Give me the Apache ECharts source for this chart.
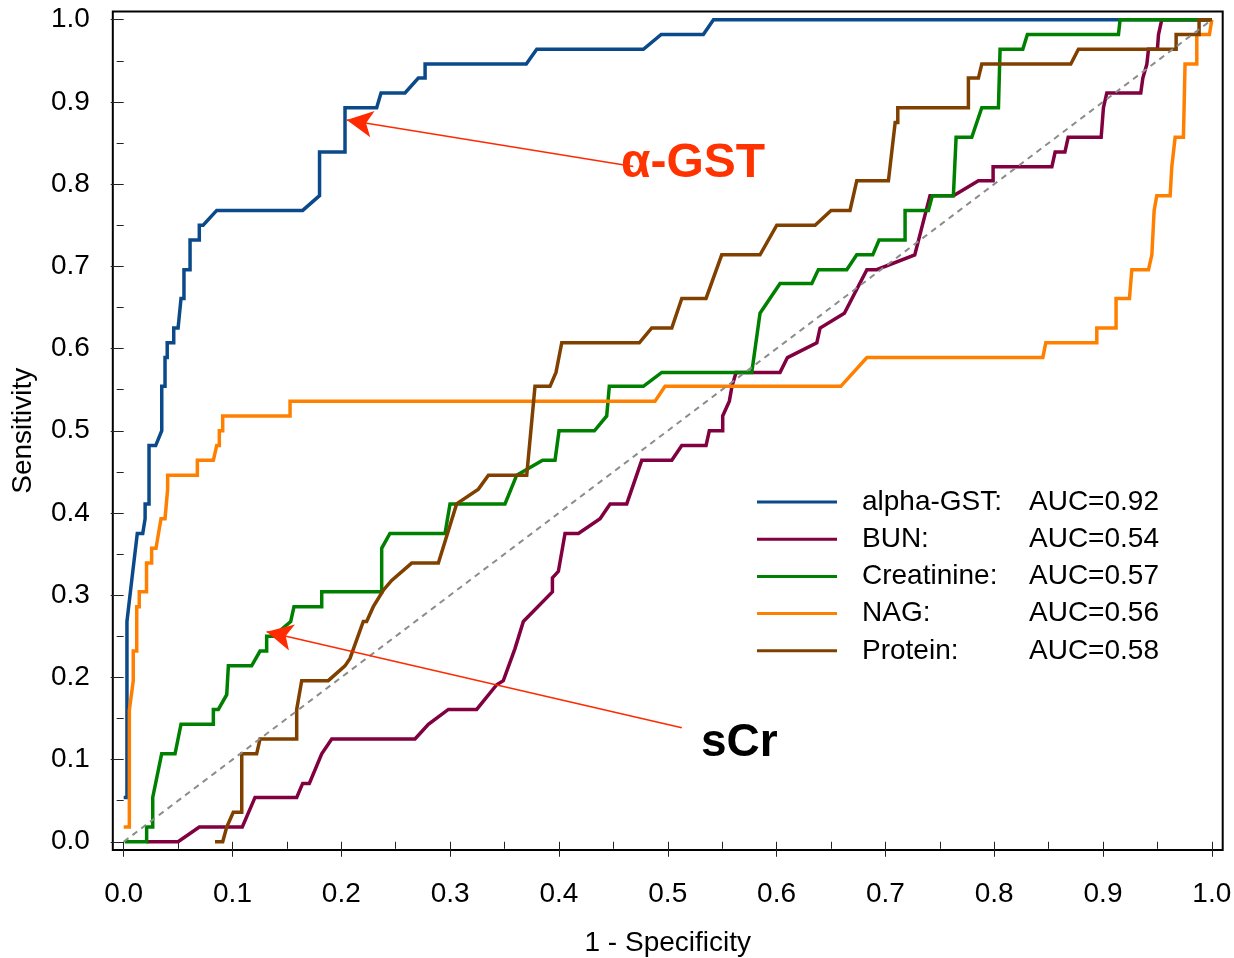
<!DOCTYPE html>
<html>
<head>
<meta charset="utf-8">
<script src="https://cdn.jsdelivr.net/npm/echarts@6/dist/echarts.min.js"></script>
<style>
html,body{margin:0;padding:0;background:#fff;}
#chart{width:1234px;height:958px;}
</style>
</head>
<body>
<div id="chart"></div>
<script>
// ---- data ----
const seriesNames = ['alpha-GST', 'BUN', 'Creatinine', 'NAG', 'Protein'];
const aucLabels = ['0.92', '0.54', '0.57', '0.56', '0.58'];
const xTickValues = [0, 0.1, 0.2, 0.3, 0.4, 0.5, 0.6, 0.7, 0.8, 0.9, 1.0];
const xMinorTickValues = [0.05, 0.15, 0.25, 0.35, 0.45, 0.55, 0.65, 0.75, 0.85, 0.95];
const yTickValues = [0, 0.1, 0.2, 0.3, 0.4, 0.5, 0.6, 0.7, 0.8, 0.9, 1.0];
const yMinorTickValues = [0.05, 0.15, 0.25, 0.35, 0.45, 0.55, 0.65, 0.75, 0.85, 0.95];

const alphaGST = [[0,0.054],[0.003,0.054],[0.003,0.268],[0.0074,0.318],[0.0125,0.375],[0.0175,0.375],[0.0197,0.393],[0.0197,0.411],[0.0233,0.411],[0.0233,0.482],[0.0294,0.482],[0.035,0.5],[0.035,0.554],[0.038,0.554],[0.038,0.589],[0.040,0.589],[0.040,0.607],[0.046,0.607],[0.046,0.625],[0.050,0.625],[0.0527,0.661],[0.0554,0.661],[0.0554,0.696],[0.061,0.696],[0.061,0.732],[0.0695,0.732],[0.0695,0.75],[0.073,0.75],[0.0855,0.768],[0.1645,0.768],[0.180,0.786],[0.180,0.839],[0.2034,0.839],[0.2034,0.893],[0.2325,0.893],[0.2365,0.911],[0.2585,0.911],[0.2708,0.929],[0.277,0.929],[0.277,0.946],[0.370,0.946],[0.3796,0.964],[0.4776,0.964],[0.494,0.982],[0.5327,0.982],[0.542,1.0],[1.0,1.0]];

const bun = [[0.021,0],[0.050,0],[0.0695,0.018],[0.109,0.018],[0.1207,0.054],[0.159,0.054],[0.1645,0.071],[0.1706,0.071],[0.182,0.107],[0.1912,0.125],[0.2677,0.125],[0.28,0.143],[0.2984,0.161],[0.3244,0.161],[0.3428,0.191],[0.3489,0.196],[0.3596,0.235],[0.3673,0.268],[0.394,0.304],[0.394,0.321],[0.3995,0.329],[0.4056,0.375],[0.4179,0.375],[0.4378,0.393],[0.447,0.411],[0.4623,0.411],[0.4761,0.464],[0.5037,0.464],[0.5129,0.482],[0.5352,0.482],[0.5382,0.5],[0.5505,0.5],[0.5505,0.518],[0.5566,0.536],[0.559,0.554],[0.5628,0.571],[0.6032,0.571],[0.61,0.589],[0.637,0.607],[0.64,0.625],[0.6623,0.643],[0.683,0.696],[0.692,0.696],[0.727,0.714],[0.741,0.786],[0.7625,0.786],[0.7855,0.804],[0.799,0.804],[0.799,0.821],[0.853,0.821],[0.856,0.839],[0.865,0.839],[0.868,0.857],[0.8983,0.857],[0.9004,0.893],[0.9035,0.911],[0.9347,0.911],[0.9366,0.929],[0.9403,0.946],[0.9418,0.964],[0.95,0.964],[0.951,0.982],[0.9525,0.982],[0.954,1.0],[1.0,1.0]];

const creatinine = [[0.001,0],[0.0211,0],[0.0211,0.018],[0.0267,0.018],[0.0267,0.054],[0.0349,0.107],[0.0472,0.107],[0.0527,0.143],[0.0824,0.143],[0.0824,0.161],[0.087,0.161],[0.0947,0.179],[0.0962,0.214],[0.1176,0.214],[0.1253,0.232],[0.1314,0.232],[0.1314,0.25],[0.1375,0.25],[0.1535,0.268],[0.1565,0.286],[0.182,0.286],[0.182,0.304],[0.2371,0.304],[0.2371,0.357],[0.2447,0.375],[0.2953,0.375],[0.2999,0.411],[0.3504,0.411],[0.3612,0.446],[0.385,0.464],[0.3964,0.464],[0.4001,0.5],[0.4326,0.5],[0.4439,0.518],[0.4463,0.554],[0.4776,0.554],[0.4945,0.571],[0.5772,0.571],[0.5848,0.643],[0.6032,0.679],[0.6324,0.679],[0.6384,0.696],[0.6645,0.696],[0.6737,0.714],[0.6884,0.714],[0.6942,0.732],[0.7181,0.732],[0.7181,0.768],[0.7395,0.768],[0.7432,0.786],[0.7625,0.786],[0.765,0.857],[0.7794,0.857],[0.7886,0.893],[0.8039,0.893],[0.8054,0.964],[0.8263,0.964],[0.8305,0.982],[0.9142,0.982],[0.9157,1.0],[1.0,1.0]];

const nag = [[0,0.018],[0.0052,0.018],[0.0052,0.160],[0.0088,0.196],[0.0088,0.232],[0.012,0.232],[0.012,0.286],[0.0143,0.286],[0.0143,0.304],[0.021,0.304],[0.021,0.339],[0.0257,0.339],[0.0257,0.357],[0.0297,0.357],[0.0343,0.393],[0.038,0.393],[0.0404,0.429],[0.0404,0.446],[0.0677,0.446],[0.0677,0.464],[0.0824,0.464],[0.0855,0.482],[0.0879,0.482],[0.0879,0.5],[0.091,0.5],[0.091,0.518],[0.1529,0.518],[0.1529,0.536],[0.4883,0.536],[0.4975,0.554],[0.659,0.554],[0.683,0.589],[0.8447,0.589],[0.8474,0.607],[0.8943,0.607],[0.8943,0.625],[0.912,0.625],[0.912,0.661],[0.9243,0.661],[0.9265,0.696],[0.9418,0.696],[0.9449,0.714],[0.947,0.768],[0.9494,0.786],[0.9617,0.786],[0.9632,0.821],[0.9663,0.857],[0.9739,0.857],[0.9754,0.946],[0.9862,0.946],[0.9862,0.982],[0.9978,0.982],[1.0,1.0]];

const protein = [[0.0839,0],[0.091,0],[0.0947,0.018],[0.1007,0.036],[0.1085,0.036],[0.1085,0.107],[0.1222,0.107],[0.1253,0.125],[0.159,0.125],[0.159,0.161],[0.1636,0.196],[0.188,0.196],[0.2034,0.214],[0.208,0.223],[0.2202,0.268],[0.2233,0.268],[0.2294,0.286],[0.2386,0.306],[0.2463,0.318],[0.2647,0.339],[0.2892,0.339],[0.306,0.411],[0.326,0.429],[0.3352,0.446],[0.3704,0.446],[0.378,0.554],[0.3918,0.554],[0.3973,0.571],[0.4026,0.607],[0.4739,0.607],[0.4853,0.625],[0.5037,0.625],[0.5129,0.661],[0.5352,0.661],[0.5496,0.714],[0.5848,0.714],[0.6002,0.75],[0.6354,0.75],[0.6501,0.768],[0.6675,0.768],[0.6737,0.804],[0.7028,0.804],[0.709,0.875],[0.7114,0.875],[0.7114,0.893],[0.7763,0.893],[0.7763,0.929],[0.7855,0.929],[0.7886,0.946],[0.8704,0.946],[0.8774,0.964],[0.9672,0.964],[0.9672,0.982],[0.9883,0.982],[0.9883,1.0],[1.0,1.0]];

const referenceLine = [[0,0],[1,1]];

// annotation arrows: [start, tip] in data units
const gstArrow = [[0.4684, 0.8215], [0.205, 0.878]];
const scrArrow = [[0.5129, 0.1387], [0.1314, 0.2556]];

// ---- styling ----
const FONT = '"Liberation Sans", Arial, sans-serif';
const FS = 28;
const colors = ['#0b4a8a', '#800040', '#008000', '#ff8000', '#804000'];
const curves = [alphaGST, bun, creatinine, nag, protein];

const chart = echarts.init(document.getElementById('chart'), null, {renderer: 'canvas'});

const lineSeries = curves.map((d, i) => ({
  name: seriesNames[i],
  type: 'line',
  data: d,
  showSymbol: false,
  symbol: 'none',
  silent: true,
  z: 3,
  lineStyle: {color: colors[i], width: 3.5, join: 'miter'},
  itemStyle: {color: colors[i]}
}));

const option = {
  animation: false,
  backgroundColor: '#fff',
  grid: {
    left: 112.8, right: 11.3, top: 11.5, bottom: 108,
    show: true, borderColor: '#000', borderWidth: 2,
    containLabel: false, outerBoundsMode: 'none'
  },
  xAxis: [
    {
      type: 'value', min: -0.01, max: 1.01, position: 'bottom',
      axisLine: {show: false}, splitLine: {show: false},
      axisTick: {show: true, customValues: xTickValues, length: 15, lineStyle: {color: '#222', width: 1}},
      axisLabel: {customValues: xTickValues, formatter: v => v.toFixed(1), fontSize: FS, fontFamily: FONT, color: '#000', margin: 30},
      name: '1 - Specificity', nameLocation: 'middle', nameGap: 79,
      nameTextStyle: {fontSize: FS, fontFamily: FONT, color: '#000'}
    },
    {
      type: 'value', min: -0.01, max: 1.01, position: 'bottom',
      axisLine: {show: false}, splitLine: {show: false},
      axisTick: {show: true, customValues: xMinorTickValues, length: 7, lineStyle: {color: '#222', width: 1}},
      axisLabel: {show: false}
    }
  ],
  yAxis: [
    {
      type: 'value', min: -0.01, max: 1.01, position: 'left',
      axisLine: {show: false}, splitLine: {show: false},
      axisTick: {show: true, customValues: yTickValues, length: 13, lineStyle: {color: '#222', width: 1}},
      axisLabel: {customValues: yTickValues, formatter: v => v.toFixed(1), fontSize: FS, fontFamily: FONT, color: '#000', margin: 23},
      name: 'Sensitivity', nameLocation: 'middle', nameGap: 76, nameRotate: 90,
      nameTextStyle: {fontSize: FS, fontFamily: FONT, color: '#000'}
    },
    {
      type: 'value', min: -0.01, max: 1.01, position: 'left',
      axisLine: {show: false}, splitLine: {show: false},
      axisTick: {show: true, customValues: yMinorTickValues, length: 7, lineStyle: {color: '#222', width: 1}},
      axisLabel: {show: false}
    }
  ],
  legend: {
    data: seriesNames,
    orient: 'vertical',
    left: 757, top: 483.5,
    padding: 0,
    itemGap: 0.2,
    itemWidth: 80, itemHeight: 3,
    icon: 'rect',
    selectedMode: false,
    formatter: name => {
      const i = seriesNames.indexOf(name);
      return '{s|}{n|' + name + ':}{a|AUC=' + aucLabels[i] + '}';
    },
    textStyle: {
      fontSize: FS, fontFamily: FONT, color: '#000', lineHeight: 37,
      rich: {
        s: {width: 20, lineHeight: 37},
        n: {width: 167, fontSize: FS, fontFamily: FONT, color: '#000', lineHeight: 37},
        a: {fontSize: FS, fontFamily: FONT, color: '#000', lineHeight: 37}
      }
    }
  },
  series: [
    {
      name: 'reference', type: 'line', data: referenceLine,
      showSymbol: false, symbol: 'none', silent: true, z: 4,
      lineStyle: {color: '#8c8c8c', width: 2, type: [6, 5]}
    },
    ...lineSeries,
    {
      name: 'annotations', type: 'line', data: [], silent: true, z: 6,
      markLine: {
        silent: true, animation: false,
        symbol: ['none', 'arrow'], symbolSize: [20, 26],
        lineStyle: {color: '#ff2a00', width: 1.6, type: 'solid'},
        itemStyle: {color: '#ff2a00'},
        label: {show: false},
        emphasis: {disabled: true},
        data: [
          [{coord: gstArrow[0]}, {coord: gstArrow[1]}],
          [{coord: scrArrow[0]}, {coord: scrArrow[1]}]
        ]
      }
    }
  ],
  graphic: [
    {type: 'text', left: 621, top: 140, z: 10, silent: true,
     style: {text: 'α-GST', fill: '#ff3300', font: 'bold 48px "Liberation Sans", Arial, sans-serif'}},
    {type: 'text', left: 701, top: 720, z: 10, silent: true,
     style: {text: 'sCr', fill: '#000', font: 'bold 46px "Liberation Sans", Arial, sans-serif'}}
  ]
};
chart.setOption(option);
</script>
</body>
</html>
